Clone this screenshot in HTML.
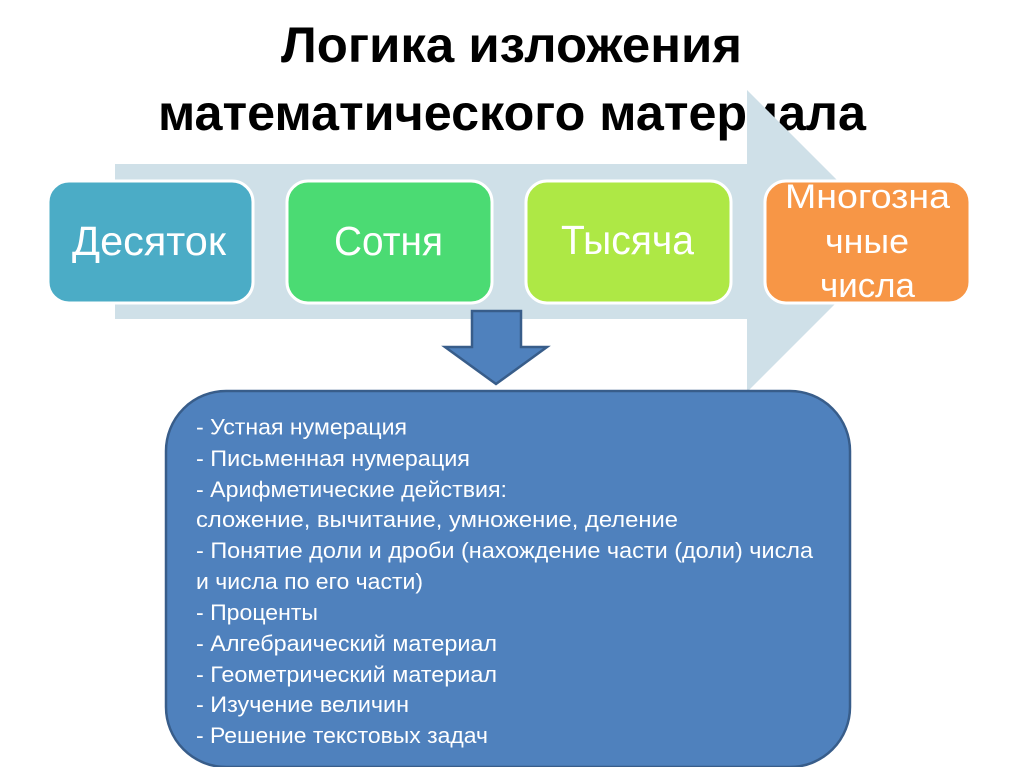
<!DOCTYPE html>
<html lang="ru">
<head>
<meta charset="utf-8">
<title>Логика изложения математического материала</title>
<style>
html,body{margin:0;padding:0;background:#fff;width:1024px;height:767px;overflow:hidden}
svg{display:block}
text{font-family:"Liberation Sans","Noto Sans CJK SC",sans-serif}
.t{font-weight:bold;font-size:50px;fill:#000}
.b{font-size:41px;fill:#fff}
.m{font-size:34px;fill:#fff}
.l{font-size:22px;fill:#fff}
</style>
</head>
<body>
<svg xmlns="http://www.w3.org/2000/svg" width="1024" height="767" viewBox="0 0 1024 767">
<rect width="1024" height="767" fill="#fff"/>
<text class="t" x="281" y="62" textLength="461" lengthAdjust="spacingAndGlyphs">Логика изложения</text>
<text class="t" x="158" y="130" textLength="708" lengthAdjust="spacingAndGlyphs">математического материала</text>
<polygon points="115,164 747,164 747,90 898,241 747,392 747,319 115,319" fill="#cfe0e8"/>
<rect x="48" y="181" width="205" height="122" rx="21" fill="#4bacc6" stroke="#fff" stroke-width="3"/>
<rect x="287" y="181" width="205" height="122" rx="21" fill="#4bdb73" stroke="#fff" stroke-width="3"/>
<rect x="526" y="181" width="205" height="122" rx="21" fill="#aee845" stroke="#fff" stroke-width="3"/>
<rect x="765" y="181" width="205" height="122" rx="21" fill="#f79646" stroke="#fff" stroke-width="3"/>
<text class="b" x="72" y="255" textLength="154" lengthAdjust="spacingAndGlyphs">Десяток</text>
<text class="b" x="334" y="255" textLength="109" lengthAdjust="spacingAndGlyphs">Сотня</text>
<text class="b" x="561" y="254" textLength="133" lengthAdjust="spacingAndGlyphs">Тысяча</text>
<text class="m" x="785" y="208" textLength="165" lengthAdjust="spacingAndGlyphs">Многозна</text>
<text class="m" x="825" y="253" textLength="84" lengthAdjust="spacingAndGlyphs">чные</text>
<text class="m" x="820" y="297" textLength="95" lengthAdjust="spacingAndGlyphs">числа</text>
<polygon points="472,311 521,311 521,347 547,347 496,384 445,347 472,347" fill="#4f81bd" stroke="#385d8a" stroke-width="2.5"/>
<rect x="166" y="391" width="684" height="376" rx="60" fill="#4f81bd" stroke="#385d8a" stroke-width="2.5"/>
<text class="l" x="196" y="434.5" textLength="211" lengthAdjust="spacingAndGlyphs">- Устная нумерация</text>
<text class="l" x="196" y="466" textLength="274" lengthAdjust="spacingAndGlyphs">- Письменная нумерация</text>
<text class="l" x="196" y="497" textLength="311" lengthAdjust="spacingAndGlyphs">- Арифметические действия:</text>
<text class="l" x="196" y="527" textLength="482" lengthAdjust="spacingAndGlyphs">сложение, вычитание, умножение, деление</text>
<text class="l" x="196" y="558" textLength="617" lengthAdjust="spacingAndGlyphs">- Понятие доли и дроби (нахождение части (доли) числа</text>
<text class="l" x="196" y="589" textLength="227" lengthAdjust="spacingAndGlyphs">и числа по его части)</text>
<text class="l" x="196" y="620" textLength="122" lengthAdjust="spacingAndGlyphs">- Проценты</text>
<text class="l" x="196" y="651" textLength="301" lengthAdjust="spacingAndGlyphs">- Алгебраический материал</text>
<text class="l" x="196" y="682" textLength="301" lengthAdjust="spacingAndGlyphs">- Геометрический материал</text>
<text class="l" x="196" y="712" textLength="213" lengthAdjust="spacingAndGlyphs">- Изучение величин</text>
<text class="l" x="196" y="743" textLength="292" lengthAdjust="spacingAndGlyphs">- Решение текстовых задач</text>
</svg>
</body>
</html>
